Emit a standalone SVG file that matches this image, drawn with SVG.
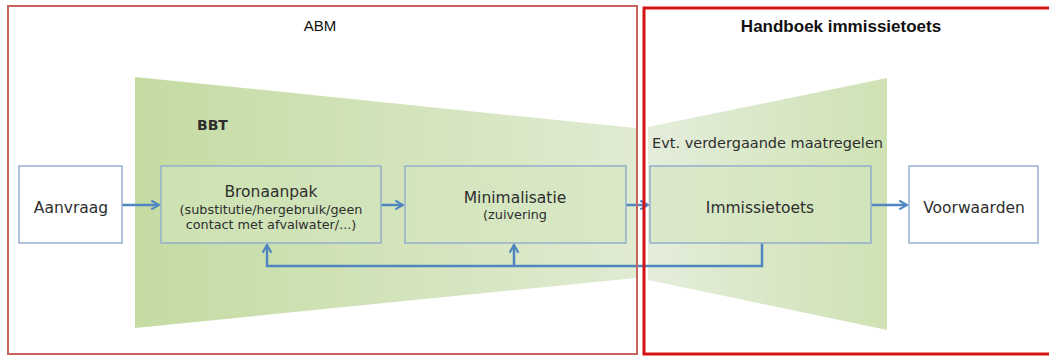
<svg xmlns="http://www.w3.org/2000/svg" width="1049" height="356" viewBox="0 0 1049 356">
<defs>
<linearGradient id="gl" x1="0" y1="0" x2="1" y2="0">
<stop offset="0" stop-color="#c4dba2"/>
<stop offset="1" stop-color="#e0ebd2"/>
</linearGradient>
<linearGradient id="gr" x1="0" y1="0" x2="1" y2="0">
<stop offset="0" stop-color="#e4eddb"/>
<stop offset="1" stop-color="#cfe2b4"/>
</linearGradient>
<marker id="ah" viewBox="0 0 10 10" refX="8" refY="5" markerWidth="4.4" markerHeight="4.4" markerUnits="strokeWidth" orient="auto">
<path d="M1,1 L8,5 L1,9" fill="none" stroke="#4f86c0" stroke-width="2"/>
</marker>
<style>
.box{fill:#ffffff;stroke:#94aecd;stroke-width:1.5}
.gbox{fill:#d3e6bd;fill-opacity:0.55;stroke:#94aecd;stroke-width:1.5}
.t{font-family:"DejaVu Sans",Verdana,sans-serif;fill:#2e2e2e;text-anchor:middle}
.big{font-size:15.5px}
.sm{font-size:12.8px}
.c{stroke:#4f86c0;stroke-width:2.5;fill:none}
.h{font-family:"Liberation Sans",Arial,sans-serif;fill:#111;text-anchor:middle}
</style>
</defs>
<rect width="1049" height="356" fill="#ffffff"/>
<g id="trapezoids">
<polygon points="135,77 636,128 636,278 135,328" fill="url(#gl)"/>
<polygon points="648,127 887,78 887,330 648,280" fill="url(#gr)"/>
</g>
<text class="t" x="197" y="130" font-size="14" font-weight="bold" style="text-anchor:start">BBT</text>
<text class="t" x="652" y="148" font-size="14.5" style="text-anchor:start">Evt. verdergaande maatregelen</text>
<g id="connectors">
<path class="c" d="M122,205 H159" marker-end="url(#ah)"/>
<path class="c" d="M381,205 H403" marker-end="url(#ah)"/>
<path class="c" d="M626,205 H648" marker-end="url(#ah)"/>
<path class="c" d="M871,205 H907" marker-end="url(#ah)"/>
<path class="c" d="M762,243 V266 H267 V245" marker-end="url(#ah)"/>
<path class="c" d="M514,266 V245" marker-end="url(#ah)"/>
</g>
<g id="aanvraag">
<rect class="box" x="19" y="166" width="103" height="77"/>
<text class="t big" x="71" y="213">Aanvraag</text>
</g>
<g id="bronaanpak">
<rect class="gbox" x="161" y="166" width="220" height="77"/>
<text class="t big" x="271" y="197">Bronaanpak</text>
<text class="t sm" x="271" y="214">(substitutie/hergebruik/geen</text>
<text class="t sm" x="271" y="229">contact met afvalwater/...)</text>
</g>
<g id="minimalisatie">
<rect class="gbox" x="405" y="166" width="221" height="77"/>
<text class="t big" x="515" y="203">Minimalisatie</text>
<text class="t sm" x="515" y="219">(zuivering</text>
</g>
<g id="immissietoets">
<rect class="gbox" x="650" y="166" width="221" height="77"/>
<text class="t big" x="760" y="213">Immissietoets</text>
</g>
<g id="voorwaarden">
<rect class="box" x="909" y="166" width="129" height="77"/>
<text class="t big" x="974" y="213">Voorwaarden</text>
</g>
<g id="abm">
<rect x="8" y="6" width="629" height="348" fill="none" stroke="#c8625d" stroke-width="2"/>
<text class="h" x="320" y="31" font-size="15">ABM</text>
</g>
<g id="handboek">
<rect x="644" y="8" width="410" height="346" fill="none" stroke="#d41414" stroke-width="3"/>
<text class="h" x="841" y="32" font-size="17" font-weight="bold">Handboek immissietoets</text>
</g>
</svg>
